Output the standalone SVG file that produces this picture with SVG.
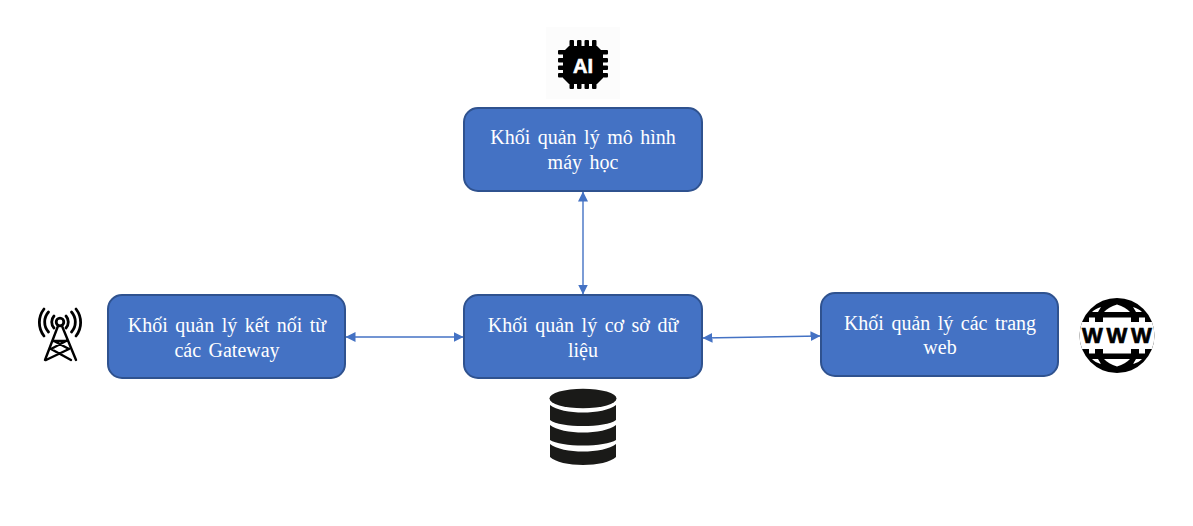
<svg xmlns="http://www.w3.org/2000/svg" width="1193" height="526" viewBox="0 0 1193 526">
<style>
.box{fill:#4472c4;stroke:#2f528f;stroke-width:2}
.t{font-family:"Liberation Serif","Times New Roman",serif;font-size:20px;fill:#fff;text-anchor:middle;word-spacing:2.5px}
.c{fill:none;stroke:#4472c4;stroke-width:1.4;marker-start:url(#a);marker-end:url(#a)}
.ic{font-family:"Liberation Sans",Arial,sans-serif;font-weight:700;text-anchor:middle}
.tw{fill:none;stroke:#000;stroke-width:2.8}
.db{fill:#1a1a18}
</style>
<defs>
<marker id="a" viewBox="0 0 10 10" refX="9.500" refY="5" markerUnits="userSpaceOnUse" markerWidth="10" markerHeight="10" orient="auto-start-reverse"><path d="M0 0L10 5L0 10Z" fill="#4472c4"/></marker>
<clipPath id="g"><circle cx="1117" cy="335.500" r="37.500"/></clipPath>
</defs>
<rect width="1193" height="526" fill="#fff"/>
<g id="connectors">
<path class="c" d="M583 192V294"/>
<path class="c" d="M346 337H463"/>
<path class="c" d="M703 338L820 336"/>
</g>
<g id="node-ml">
<rect class="box" x="464" y="108" width="238" height="83" rx="14"/>
<text class="t" x="583" y="144">Khối quản lý mô hình</text>
<text class="t" x="583" y="169">máy học</text>
</g>
<g id="node-db">
<rect class="box" x="464" y="295" width="238" height="83" rx="14"/>
<text class="t" x="583" y="332">Khối quản lý cơ sở dữ</text>
<text class="t" x="583" y="357">liệu</text>
</g>
<g id="node-gw">
<rect class="box" x="108" y="295" width="237" height="83" rx="14"/>
<text class="t" x="227" y="332">Khối quản lý kết nối từ</text>
<text class="t" x="227" y="357">các Gateway</text>
</g>
<g id="node-web">
<rect class="box" x="821" y="293" width="237" height="83" rx="14"/>
<text class="t" x="940" y="330">Khối quản lý các trang</text>
<text class="t" x="940" y="354">web</text>
</g>
<g id="icon-ai">
<rect x="546" y="27" width="74" height="72" fill="#fcfcfc"/>
<g fill="#000">
<path d="M569 46H597L603 52V78L597 84H569L563 78V52Z"/>
<rect x="569.500" y="40" width="4.500" height="49" rx="1"/>
<rect x="577" y="40" width="4.500" height="49" rx="1"/>
<rect x="584.500" y="40" width="4.500" height="49" rx="1"/>
<rect x="592" y="40" width="4.500" height="49" rx="1"/>
<rect x="558" y="50" width="50" height="4.500" rx="1"/>
<rect x="558" y="58" width="50" height="4.500" rx="1"/>
<rect x="558" y="65.500" width="50" height="4.500" rx="1"/>
<rect x="558" y="73" width="50" height="4.500" rx="1"/>
</g>
<text class="ic" x="583" y="72.500" font-size="20" fill="#fff" stroke="#fff" stroke-width=".6">AI</text>
</g>
<g id="icon-tower">
<g class="tw" stroke-linecap="round">
<circle cx="60" cy="322" r="3.800"/>
<path d="M58 326L45 360M62 326L76 360M54 341H66M51 349L71 360M69 349L46 360M54 341L69 349M66 341L51 349" stroke-width="2.400"/>
<path d="M54 316a9 9 0 0 0 0 12M66 316a9 9 0 0 1 0 12M48.500 312a15 15 0 0 0 0 20M71.500 312a15 15 0 0 1 0 20M44 309a22 22 0 0 0 0 27M76 309a22 22 0 0 1 0 27"/>
</g>
</g>
<g id="icon-www">
<circle cx="1117" cy="335.500" r="37.500" fill="#000"/>
<g clip-path="url(#g)" fill="#fff">
<rect x="1078" y="322" width="78" height="27"/>
<path d="M1117 304.500C1111 306 1107 309 1104 312H1130C1127 309 1123 306 1117 304.500Z"/>
<path d="M1117 366.500C1111 365 1107 362 1104 359H1130C1127 362 1123 365 1117 366.500Z"/>
<path d="M1103 317.500H1131V322H1103ZM1089 317.500H1095V322H1089ZM1139 317.500H1145V322H1139Z"/>
<path d="M1103 349H1131V353.500H1103ZM1089 349H1095V353.500H1089ZM1139 349H1145V353.500H1139Z"/>
<path d="M1092 312H1098L1101 307C1097 308 1094 310 1092 312ZM1142 312H1136L1133 307C1137 308 1140 310 1142 312Z"/>
<path d="M1092 359H1098L1101 364C1097 363 1094 361 1092 359ZM1142 359H1136L1133 364C1137 363 1140 361 1142 359Z"/>
</g>
<text class="ic" x="1092.500 1117 1141.500" y="343" font-size="22" fill="#000" stroke="#000" stroke-width=".7">WWW</text>
</g>
<g id="icon-db" class="db">
<ellipse cx="583" cy="398.500" rx="33.500" ry="9.800"/>
<path d="M550 405C556 410 570 412.500 583 412.500S610 410 616 405V420C611 424 597 426 583 426S555 424 550 420Z"/>
<path d="M550 425C556 430 570 432.500 583 432.500S610 430 616 425V440C611 443.500 597 445.500 583 445.500S555 443.500 550 440Z"/>
<path d="M550 444C556 449 570 451.500 583 451.500S610 449 616 444V457C611 462 597 465 583 465S555 462 550 457Z"/>
</g>
</svg>
